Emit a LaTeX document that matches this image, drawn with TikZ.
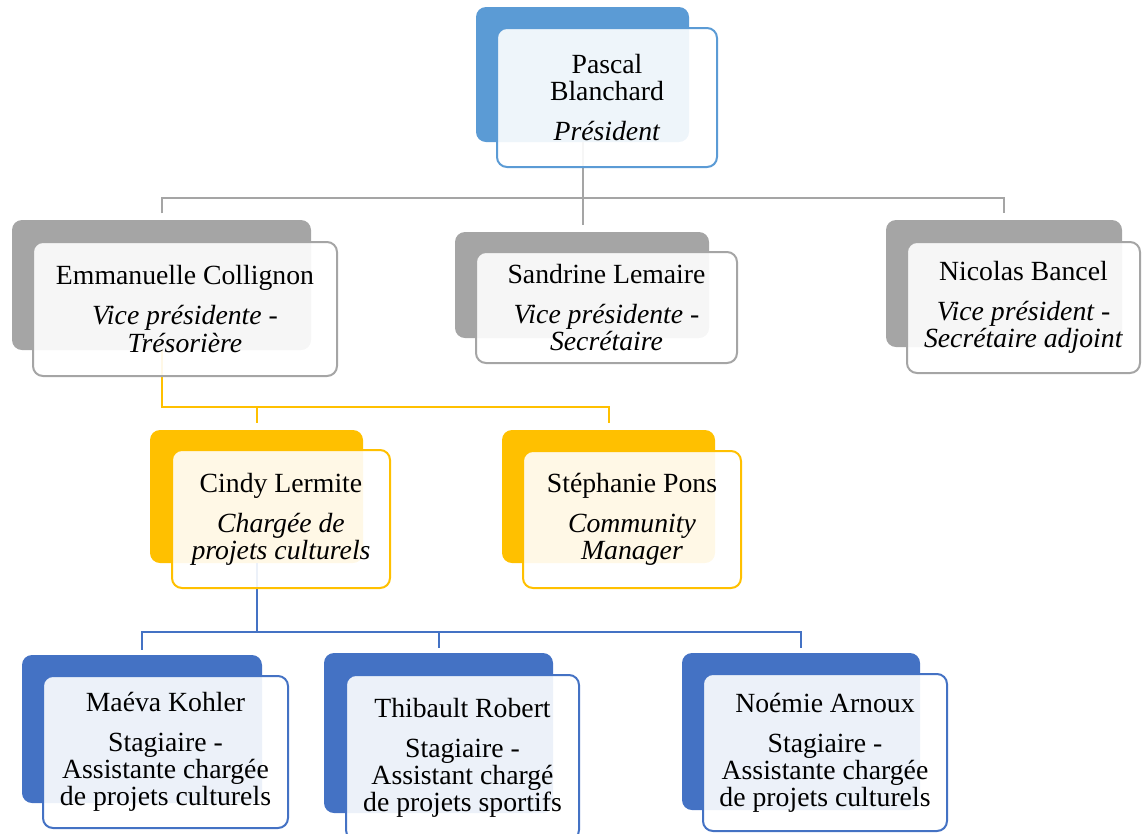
\documentclass[tikz,border=0pt]{standalone}
\usepackage{fontspec}
\setmainfont{Liberation Serif}
\usepackage{tikz}

\definecolor{topblue}{HTML}{5B9BD5}
\definecolor{vpgray}{HTML}{A5A5A5}
\definecolor{staffgold}{HTML}{FFC000}
\definecolor{internblue}{HTML}{4472C4}

\begin{document}
\begin{tikzpicture}[x=0.75pt, y=-0.75pt,
  dims/.style 2 args={minimum width=#1*0.75pt, minimum height=#2*0.75pt},
  back/.style={anchor=north west, rounded corners=7.5pt, inner sep=0pt, outer sep=0pt},
  front/.style={anchor=north west, rounded corners=7.5pt, line width=1.5pt, fill=white, fill opacity=0.9, text opacity=1, align=center, inner sep=0pt, outer sep=0pt, font=\fontsize{20.8pt}{20.3pt}\selectfont},
  link/.style={line width=1.5pt}]
\useasboundingbox (0,0) rectangle (1142,833);

% back boxes
\node[back, fill=topblue, dims={213}{135}] (pascalB) at (476,7) {};
\node[back, fill=vpgray, dims={299}{130}] (emmaB) at (12,220) {};
\node[back, fill=vpgray, dims={254}{106}] (sandrineB) at (455,232) {};
\node[back, fill=vpgray, dims={236}{127}] (nicolasB) at (886,220) {};
\node[back, fill=staffgold, dims={213}{133}] (cindyB) at (150,430) {};
\node[back, fill=staffgold, dims={213}{133}] (stephB) at (502,430) {};
\node[back, fill=internblue, dims={240}{148}] (maevaB) at (22,655) {};
\node[back, fill=internblue, dims={229}{160}] (thibaultB) at (324,653) {};
\node[back, fill=internblue, dims={238}{157}] (noemieB) at (682,653) {};

% connectors
\coordinate (busA) at (582,198);
\coordinate (busB) at (300,407);
\coordinate (busC) at (400,632);
\draw[link, vpgray] (pascalB.south) -- (pascalB.south |- busA);
\draw[link, vpgray, shorten <=5pt, shorten >=5pt] (emmaB.north) |- (busA) -| (nicolasB.north);
\draw[link, vpgray, shorten >=5pt] (pascalB.south |- busA) -- (pascalB.south |- sandrineB.north);
\draw[link, staffgold, shorten >=5pt] (emmaB.south) |- (busB) -| (stephB.north);
\draw[link, staffgold, shorten >=5pt] (cindyB.north |- busB) -- (cindyB.north);
\draw[link, internblue] (cindyB.south) -- (cindyB.south |- busC);
\draw[link, internblue, shorten <=4pt, shorten >=4pt] (maevaB.north) |- (busC) -| (noemieB.north);
\draw[link, internblue, shorten >=4pt] (thibaultB.north |- busC) -- (thibaultB.north);

% front boxes
\node[front, draw=topblue, dims={220}{139}] (pascal) at (497,28) {Pascal\\Blanchard\\[9.75pt]\textit{Président}};
\node[front, draw=vpgray, dims={304}{134}] (emma) at (33,242) {Emmanuelle Collignon\\[9.75pt]\textit{Vice présidente -}\\\textit{Trésorière}};
\node[front, draw=vpgray, dims={261}{111}] (sandrine) at (476,252) {Sandrine Lemaire\\[9.75pt]\textit{Vice présidente -}\\\textit{Secrétaire}};
\node[front, draw=vpgray, dims={233}{131}] (nicolas) at (907,242) {Nicolas Bancel\\[9.75pt]\textit{Vice président -}\\\textit{Secrétaire adjoint}};
\node[front, draw=staffgold, dims={218}{138}] (cindy) at (172,450) {Cindy Lermite\\[9.75pt]\textit{Chargée de}\\\textit{projets culturels}};
\node[front, draw=staffgold, dims={218}{137}] (steph) at (523,451) {Stéphanie Pons\\[9.75pt]\textit{Community}\\\textit{Manager}};
\node[front, draw=internblue, dims={245}{152}] (maeva) at (43,676) {Maéva Kohler\\[9.75pt]Stagiaire -\\Assistante chargée\\de projets culturels};
\node[front, draw=internblue, dims={233}{165}] (thibault) at (346,675) {Thibault Robert\\[9.75pt]Stagiaire -\\Assistant chargé\\de projets sportifs};
\node[front, draw=internblue, dims={244}{157}] (noemie) at (703,674) {Noémie Arnoux\\[9.75pt]Stagiaire -\\Assistante chargée\\de projets culturels};
\end{tikzpicture}
\end{document}
